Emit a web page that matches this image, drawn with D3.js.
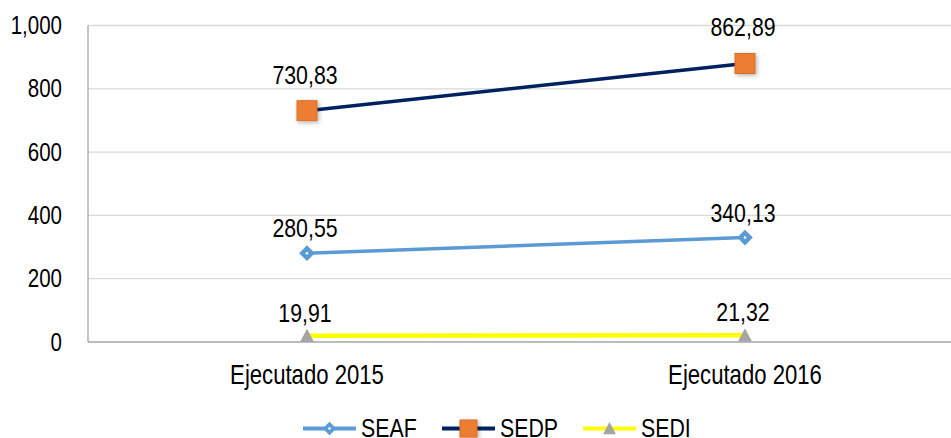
<!DOCTYPE html>
<html><head><meta charset="utf-8">
<script src="https://cdn.jsdelivr.net/npm/d3@7"></script>
<style>
body{margin:0;background:#fff;}
text{font-family:"Liberation Sans",Arial,sans-serif;fill:#000;}
</style></head><body>
<svg id="c" width="951" height="438"></svg>
<script>
const categories = ["Ejecutado 2015", "Ejecutado 2016"];
const seriesNames = ["SEAF", "SEDP", "SEDI"];
const seafValues = [280.55, 330];
const sedpValues = [730.83, 880];
const sediValues = [19.91, 21.32];
const seafLabels = ["280,55", "340,13"];
const sedpLabels = ["730,83", "862,89"];
const sediLabels = ["19,91", "21,32"];
const yTicks = [0, 200, 400, 600, 800, 1000];
const yTickLabels = ["0", "200", "400", "600", "800", "1,000"];

(function(){
const svg = d3.select("#c");
const defs = svg.append("defs");
const f = defs.append("filter").attr("id","sh").attr("x","-50%").attr("y","-50%").attr("width","200%").attr("height","200%");
f.append("feDropShadow").attr("dx",1.5).attr("dy",1.5).attr("stdDeviation",2).attr("flood-color","#000").attr("flood-opacity",0.3);

const NX = 0.82; // narrow-font horizontal scale
const tr = (px, py) => `translate(${px},${py}) scale(${NX},1)`;

const pL = 88, pR = 964, pT = 25.5, pB = 342;
const x = d3.scaleBand().domain(categories).range([pL, pR]);
const y = d3.scaleLinear().domain([0, 1000]).range([pB, pT]);
const cx = d => x(d) + x.bandwidth()/2;

svg.append("g").selectAll("line").data(yTicks.filter(t=>t>0)).join("line")
  .attr("x1", pL).attr("x2", 951).attr("y1", d=>y(d)).attr("y2", d=>y(d))
  .attr("stroke", "#d9d9d9").attr("stroke-width", 1.3);
svg.append("line").attr("x1",pL).attr("x2",pL).attr("y1",pT).attr("y2",pB)
  .attr("stroke","#a6a6a6").attr("stroke-width",1.3);
svg.append("line").attr("x1",pL).attr("x2",951).attr("y1",pB).attr("y2",pB)
  .attr("stroke","#a6a6a6").attr("stroke-width",1.5);

svg.append("g").selectAll("text").data(yTicks).join("text")
  .attr("transform", d=>tr(62, y(d))).attr("dy","0.34em").attr("text-anchor","end")
  .style("font-size","25px").text((d,i)=>yTickLabels[i]);

svg.append("g").selectAll("text").data(categories).join("text")
  .attr("transform", d=>tr(cx(d), 384)).attr("text-anchor","middle")
  .style("font-size","27px").text(d=>d);

const series = [
  {name:"SEAF", vals:seafValues, labels:seafLabels, color:"#5B9BD5", lw:3.5, off:16},
  {name:"SEDP", vals:sedpValues, labels:sedpLabels, color:"#002060", lw:3.5, off:27},
  {name:"SEDI", vals:sediValues, labels:sediLabels, color:"#FFFF00", lw:4.5, off:14}
];

const line = d3.line().x((d,i)=>cx(categories[i])).y(d=>y(d));

function marker(g, name, px, py, s) {
  if (name==="SEAF") {
    g.append("rect").attr("x",px-s*0.35).attr("y",py-s*0.35).attr("width",s*0.7).attr("height",s*0.7)
      .attr("transform",`rotate(45,${px},${py})`).attr("fill","#5B9BD5").attr("stroke","#5B9BD5").attr("stroke-width",2);
    g.append("circle").attr("cx",px).attr("cy",py).attr("r",1.3).attr("fill","#fff");
  } else if (name==="SEDP") {
    g.append("rect").attr("x",px-s/2).attr("y",py-s/2).attr("width",s).attr("height",s)
      .attr("fill","#ED7D31").attr("stroke","#D86F28").attr("stroke-width",1).attr("filter","url(#sh)");
  } else {
    g.append("path").attr("d",`M${px},${py-s*0.5}L${px+s*0.5},${py+s*0.45}L${px-s*0.5},${py+s*0.45}Z`)
      .attr("fill","#A5A5A5");
  }
}

const sizes = {SEAF:13, SEDP:20, SEDI:14};
series.forEach(s=>{
  svg.append("path").datum(s.vals).attr("d", line).attr("fill","none")
    .attr("stroke", s.color).attr("stroke-width", s.lw);
});
series.forEach(s=>{
  const g = svg.append("g");
  s.vals.forEach((v,i)=>marker(g, s.name, cx(categories[i]), y(v), sizes[s.name]));
  svg.append("g").selectAll("text").data(s.vals).join("text")
    .attr("transform",(d,i)=>tr(cx(categories[i])-2, y(d)-s.off))
    .attr("text-anchor","middle").style("font-size","26px").text((d,i)=>s.labels[i]);
});

const legX = [303, 442, 583];
const legY = 428.5;
series.forEach((s,i)=>{
  const g = svg.append("g");
  g.append("line").attr("x1",legX[i]).attr("x2",legX[i]+53).attr("y1",legY).attr("y2",legY)
    .attr("stroke", s.color).attr("stroke-width", 4);
  const ms = {SEAF:11, SEDP:17, SEDI:13}[s.name];
  marker(g, s.name, legX[i]+26.5, legY, ms);
  g.append("text").attr("transform", tr(legX[i]+58, 436.5))
    .style("font-size","26px").text(s.name);
});
})();
</script></body></html>
